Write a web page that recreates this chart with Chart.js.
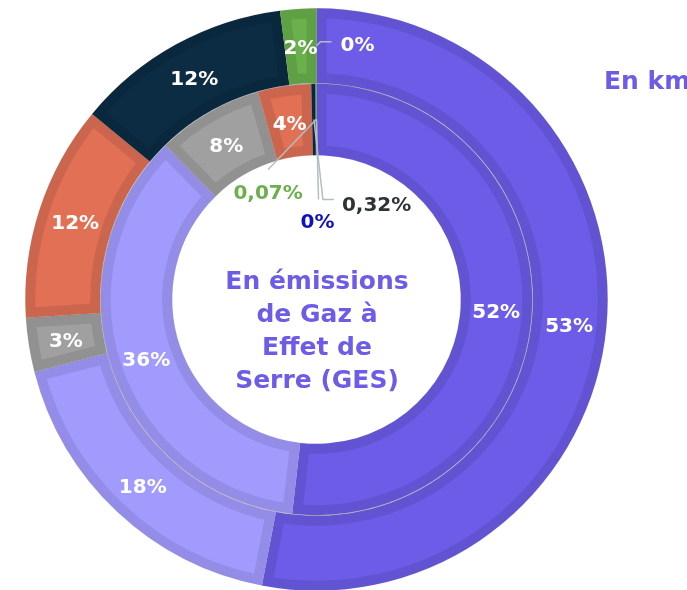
<!DOCTYPE html>
<html>
<head>
<meta charset="utf-8">
<script src="https://cdn.jsdelivr.net/npm/chart.js@4.4.0/dist/chart.umd.min.js"></script>
<style>
  html, body { margin: 0; padding: 0; background: #fff; overflow: hidden; }
  #wrap { position: relative; width: 687px; height: 600px; }
  #centre {
    position: absolute; left: 167px; top: 264px; width: 300px;
    text-align: center; font: 700 25px/33px "DejaVu Sans", sans-serif; color: #6c5ce7;
  }
  #km {
    position: absolute; left: 604px; top: 66px; white-space: nowrap;
    font: 700 25px "DejaVu Sans", sans-serif; color: #6c5ce7;
  }
</style>
</head>
<body>
<div id="wrap">
  <canvas id="graphique"></canvas>
  <div id="centre">En émissions<br>de Gaz à<br>Effet de<br>Serre (GES)</div>
  <div id="km">En km</div>
</div>
<script>
// categories (noms non affichés sur l'image)
const categories = ['Catégorie 1', 'Catégorie 2', 'Catégorie 3', 'Catégorie 4', 'Catégorie 5', 'Catégorie 6', 'Catégorie 7'];
// anneau extérieur : en km (%)
const valeursKm = [53, 18, 3, 12, 12, 2, 0];
// anneau intérieur : en émissions de GES (%)
const valeursGes = [52, 36, 8, 4, 0.32, 0.07, 0];

const couleurs = ['#6c5ce7', '#a29bfe', '#a0a0a0', '#e17055', '#0c2c44', '#6ab04c', '#1010c0'];

// petites parts : étiquettes déportées avec trait (décalages en px depuis le milieu de l'arc)
const deports = {
  '0-6': { trait: [[4, -4], [15, -4]], texte: [24, 0], align: 'left', couleur: '#ffffff' },
  '1-4': { trait: [[9, 80], [20, 80]], texte: [28, 86], align: 'left', couleur: '#2d3436' },
  '1-5': { trait: [[-48, 50]], texte: [-48, 74], align: 'center', couleur: '#6ab04c' },
  '1-6': { trait: [[2, 80]], texte: [1, 103], align: 'center', couleur: '#1010c0' }
};

function formatPct(v) {
  return String(v).replace('.', ',') + '%';
}

const etiquettes = {
  id: 'etiquettes',
  afterDatasetsDraw(chart) {
    const ctx = chart.ctx;
    ctx.save();
    // fin trait gris entre les deux anneaux
    const inner = chart.getDatasetMeta(1).data[0];
    ctx.beginPath();
    ctx.arc(inner.x, inner.y, inner.outerRadius, 0, Math.PI * 2);
    ctx.strokeStyle = 'rgba(110,110,130,0.4)';
    ctx.lineWidth = 1;
    ctx.stroke();

    ctx.font = '700 20px "DejaVu Sans", sans-serif';
    ctx.textBaseline = 'middle';
    chart.data.datasets.forEach((ds, di) => {
      const meta = chart.getDatasetMeta(di);
      meta.data.forEach((arc, i) => {
        const p = arc.getProps(['x', 'y', 'startAngle', 'endAngle', 'innerRadius', 'outerRadius']);
        const a = (p.startAngle + p.endAngle) / 2;
        const r = (p.innerRadius + p.outerRadius) / 2;
        const mx = p.x + Math.cos(a) * r;
        const my = p.y + Math.sin(a) * r;
        const txt = formatPct(ds.data[i]);
        const d = deports[di + '-' + i];
        if (d) {
          ctx.beginPath();
          ctx.moveTo(mx, my);
          d.trait.forEach(pt => ctx.lineTo(mx + pt[0], my + pt[1]));
          ctx.strokeStyle = '#b2bec3';
          ctx.lineWidth = 1.5;
          ctx.stroke();
          ctx.fillStyle = d.couleur;
          ctx.textAlign = d.align;
          ctx.fillText(txt, mx + d.texte[0], my + d.texte[1]);
        } else {
          ctx.fillStyle = '#ffffff';
          ctx.textAlign = 'center';
          ctx.fillText(txt, mx, my + 3);
        }
      });
    });
    ctx.restore();
  }
};

new Chart(document.getElementById('graphique'), {
  type: 'doughnut',
  data: {
    labels: categories,
    datasets: [
      { label: 'En km', data: valeursKm, weight: 75.5 },
      { label: 'En émissions de GES', data: valeursGes, weight: 72 }
    ]
  },
  options: {
    responsive: true,
    maintainAspectRatio: false,
    animation: false,
    events: [],
    cutout: 144,
    layout: { padding: { left: 25, right: 79, top: 8, bottom: 9 } },
    elements: {
      arc: {
        backgroundColor: couleurs,
        borderColor: 'rgba(0,0,0,0.09)',
        borderWidth: 10,
        borderAlign: 'inner',
        borderJoinStyle: 'miter',
        hoverOffset: 0,
        offset: 0
      }
    },
    plugins: {
      legend: { display: false },
      tooltip: { enabled: false }
    }
  },
  plugins: [etiquettes]
});
</script>
</body>
</html>
